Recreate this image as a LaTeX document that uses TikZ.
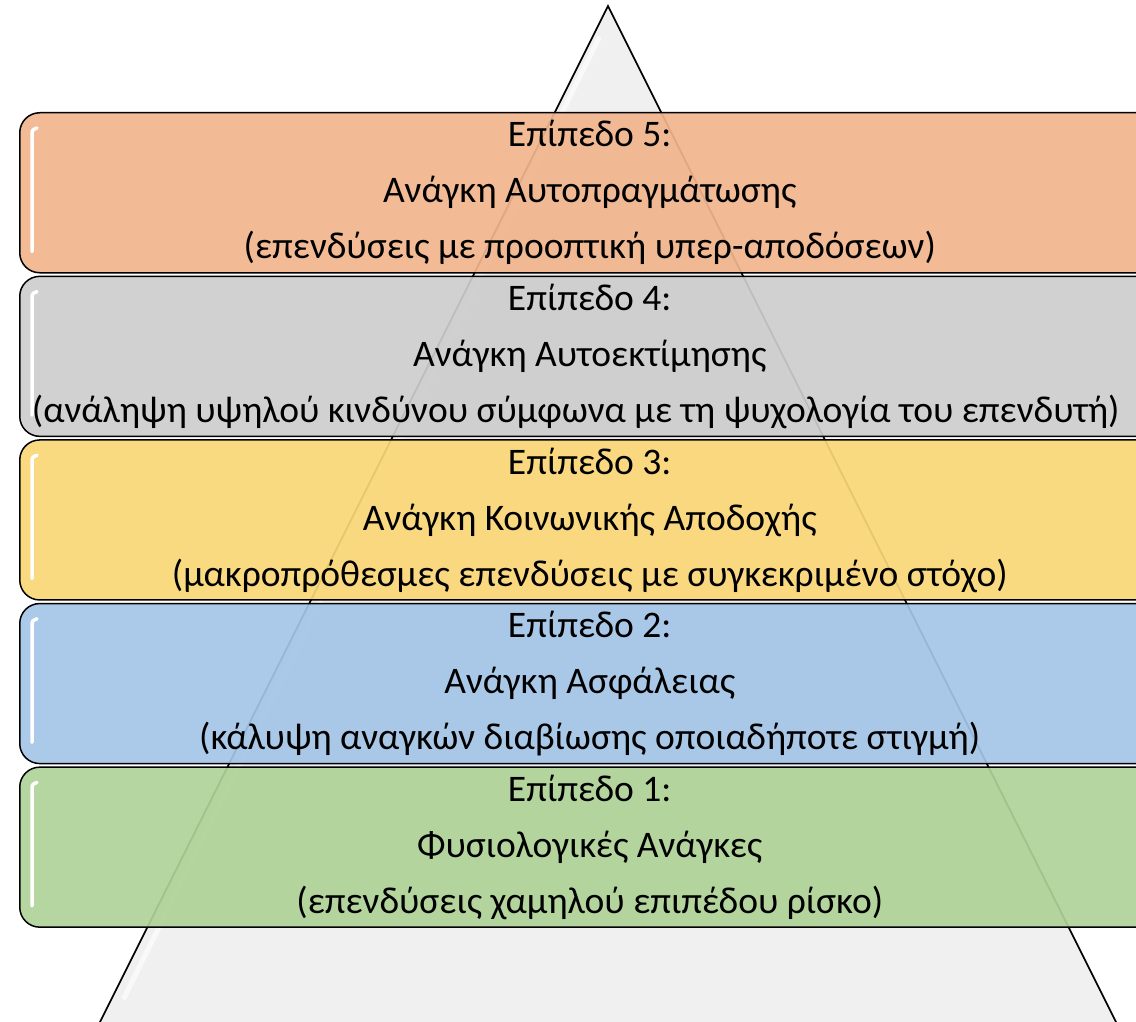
\documentclass[tikz,border=0pt]{standalone}
\usepackage{fontspec}
\setmainfont{Carlito}
\usepackage{xcolor}
\usetikzlibrary{calc}

\definecolor{pyrfill}{HTML}{F0F0F0}
\definecolor{lvlorange}{HTML}{F1B58C}
\definecolor{lvlgray}{HTML}{CDCDCD}
\definecolor{lvlyellow}{HTML}{FAD776}
\definecolor{lvlblue}{HTML}{A4C4E6}
\definecolor{lvlgreen}{HTML}{AFD298}

\begin{document}
\begin{tikzpicture}[x=1pt,y=-1pt]
        \useasboundingbox (0,0) rectangle (1136,1022);
        \clip (0,0) rectangle (1136,1022);

        % pyramid behind the levels
        \coordinate (T) at (608,6);
        \coordinate (L) at (96,1030);
        \coordinate (R) at (1120,1030);
        \draw[line width=1.6pt, fill=pyrfill] (T) -- (L) -- (R) -- cycle;
        \draw[white, line width=5pt, opacity=0.6] ($(T)!0.03!(L)+(7,0)$) -- ($(T)!0.97!(L)+(12,0)$);

        \begin{scope}[every node/.style = {draw, line width=1.5pt, rounded corners=20pt,
                        minimum width=1140pt, minimum height=160pt, anchor=north west,
                        fill opacity=0.92, text opacity=1, align=center,
                        font=\fontsize{37.5}{56}\selectfont}]
            \node[fill=lvlorange] (E) at (19,112)   {Επίπεδο 5:\\Ανάγκη Αυτοπραγμάτωσης\\(επενδύσεις με προοπτική υπερ-αποδόσεων)};
            \node[fill=lvlgray]   (D) at (19,275.6) {Επίπεδο 4:\\Ανάγκη Αυτοεκτίμησης\\\hspace*{-28pt}(ανάληψη υψηλού κινδύνου σύμφωνα με τη ψυχολογία του επενδυτή)};
            \node[fill=lvlyellow] (C) at (19,439.2) {Επίπεδο 3:\\Ανάγκη Κοινωνικής Αποδοχής\\(μακροπρόθεσμες επενδύσεις με συγκεκριμένο στόχο)};
            \node[fill=lvlblue]   (B) at (19,602.8) {Επίπεδο 2:\\Ανάγκη Ασφάλειας\\(κάλυψη αναγκών διαβίωσης οποιαδήποτε στιγμή)};
            \node[fill=lvlgreen]  (A) at (19,766.4) {Επίπεδο 1:\\Φυσιολογικές Ανάγκες\\(επενδύσεις χαμηλού επιπέδου ρίσκο)};
        \end{scope}

        % glossy highlights on the left edge
        \foreach \lvl in {A,B,C,D,E}
            \draw[white, line width=3.5pt, line cap=round]
                ([xshift=13pt,yshift=22pt]\lvl.south west) -- ([xshift=13pt,yshift=-24pt]\lvl.north west)
                .. controls ([xshift=13pt,yshift=-18pt]\lvl.north west) .. ([xshift=18pt,yshift=-16pt]\lvl.north west);

    \end{tikzpicture}
\end{document}
